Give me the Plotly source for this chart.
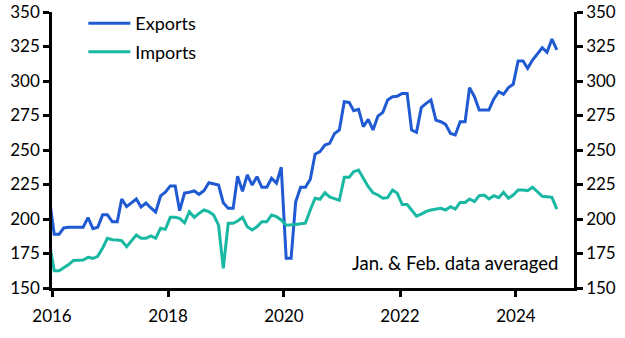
import plotly.graph_objects as go
import pandas as pd

# Monthly data, Dec 2015 – Sep 2024 (Jan & Feb averaged)
exports = [
    215,
    189, 189, 193.5, 194, 194, 194, 194, 201, 193, 194, 203, 203,
    198, 198, 214.5, 209, 212, 214.5, 208.7, 211.6, 208, 205, 216.7, 219.5,
    224, 224, 206, 218.8, 219.4, 220.3, 217.9, 220.5, 226.3, 225.4, 224.6, 211.8,
    207.7, 207.7, 231, 220, 232, 224.6, 230.7, 223, 223, 229.5, 226, 237.5,
    171.5, 171.5, 212.5, 223, 223, 228.8, 247, 248.8, 253.6, 254.8, 262, 264.5,
    285, 284.5, 278.5, 279.5, 266.9, 272.2, 264.5, 274.6, 277.3, 286.2, 288.6, 289,
    291, 291, 264.5, 262.8, 280.7, 283.8, 286.2, 271.7, 270.5, 268.6, 262, 260.9,
    270.5, 270.5, 295.2, 288.6, 279, 279, 279, 287, 292.3, 290.3, 295.2, 297.6,
    314.5, 314.5, 309.2, 315.2, 320, 324.1, 320.8, 330.4, 322.5,
]
imports = [
    183,
    162.5, 162.5, 164.5, 167, 170, 170.3, 170.3, 172.2, 171.5, 173, 179, 186,
    185, 184.8, 184.3, 180, 184.5, 188.4, 186, 186, 187.7, 186, 193.3, 192.5,
    201.2, 201.2, 200.5, 197.3, 205.3, 201.2, 204.1, 206.5, 205.3, 202.9, 195.5, 164.3,
    196.9, 196.9, 198.5, 201.2, 194.4, 192, 194.4, 198, 198, 202.9, 201.7, 199.3,
    195.5, 195.5, 196, 196.5, 197, 206.5, 215, 214.3, 219, 216, 215, 213.5,
    230.2, 230.2, 234.3, 235.5, 229.5, 223.4, 219, 217.4, 215, 215.5, 221, 218.6,
    210.5, 210.5, 206.5, 202, 203.5, 205.5, 206.5, 207.2, 207.7, 206.5, 208.9, 207.2,
    212, 212, 214.5, 212.6, 216.9, 217.4, 214.5, 216.9, 215.4, 219.3, 215, 217.4,
    221, 221, 220.5, 223, 220, 216.5, 216.2, 215.7, 207.2,
]
dates = pd.date_range("2015-12-01", periods=len(exports), freq="MS") + pd.Timedelta(days=14)

x_ticks = ["2016-01-01", "2018-01-01", "2020-01-01", "2022-01-01", "2024-01-01"]
x_tick_labels = ["2016", "2018", "2020", "2022", "2024"]
y_ticks = [150, 175, 200, 225, 250, 275, 300, 325, 350]

FONT = "Lato"
fig = go.Figure()
fig.add_trace(go.Scatter(x=dates, y=exports, mode="lines", name="Exports", legendgroup="a",
                         line=dict(color="#1F5AD3", width=3)))
fig.add_trace(go.Scatter(x=dates, y=imports, mode="lines", name="Imports", legendgroup="b",
                         line=dict(color="#19B8A3", width=3)))
fig.add_trace(go.Scatter(x=[dates[0]], y=[None], yaxis="y2", showlegend=False,
                         hoverinfo="skip"))

axis_common = dict(range=[150, 350], tickvals=y_ticks, showgrid=False, zeroline=False,
                   showline=True, linecolor="black", linewidth=2.5,
                   ticks="outside", ticklen=6, tickwidth=2.5, tickcolor="black",
                   tickfont=dict(family=FONT, size=17, color="black"))
fig.update_layout(
    width=625, height=338,
    margin=dict(l=52, r=51, t=12, b=50, autoexpand=False),
    paper_bgcolor="white", plot_bgcolor="white",
    xaxis=dict(range=["2016-01-01", "2025-01-01"], tickvals=x_ticks, ticktext=x_tick_labels,
               showgrid=False, zeroline=False, showline=True, linecolor="black", linewidth=2.5,
               ticks="outside", ticklen=6, tickwidth=2.5, tickcolor="black",
               ticklabelstandoff=5,
               tickfont=dict(family=FONT, size=17, color="black")),
    yaxis=dict(side="left", **axis_common),
    yaxis2=dict(side="right", overlaying="y", **axis_common),
    legend=dict(x=0.06, y=1.025, xanchor="left", yanchor="top", bgcolor="rgba(0,0,0,0)",
                font=dict(family=FONT, size=18, color="black"), itemwidth=42,
                tracegroupgap=2),
    showlegend=True,
    annotations=[dict(text="Jan. & Feb. data averaged", xref="paper", yref="paper",
                      x=0.973, y=0.09, xanchor="right", yanchor="middle", showarrow=False,
                      font=dict(family=FONT, size=18.5, color="black"))],
)
fig.write_html("out.html")
